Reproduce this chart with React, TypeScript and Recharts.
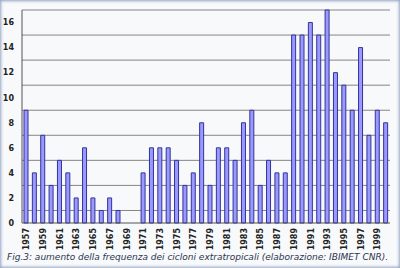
import { BarChart, Bar, XAxis, YAxis, CartesianGrid } from 'recharts'

const years = [
  '1957', '1958', '1959', '1960', '1961', '1962', '1963', '1964', '1965', '1966', '1967',
  '1968', '1969', '1970', '1971', '1972', '1973', '1974', '1975', '1976', '1977', '1978',
  '1979', '1980', '1981', '1982', '1983', '1984', '1985', '1986', '1987', '1988', '1989',
  '1990', '1991', '1992', '1993', '1994', '1995', '1996', '1997', '1998', '1999', '2000',
]
const cyclones = [
  9, 4, 7, 3, 5, 4, 2, 6, 2, 1, 2,
  1, 0, 0, 4, 6, 6, 6, 5, 3, 4, 8,
  3, 6, 6, 5, 8, 9, 3, 5, 4, 4, 15,
  15, 16, 15, 17, 12, 11, 9, 14, 7, 9, 8,
]
const yTicks = [0, 2, 4, 6, 8, 10, 12, 14, 16]
const gridValues = [0, 1, 2, 3, 4, 5, 6, 7, 8, 9, 10, 11, 12, 13, 14, 15, 16, 17]
const caption = 'Fig.3: aumento della frequenza dei cicloni extratropicali (elaborazione: IBIMET CNR).'

const data = years.map((y, i) => ({ year: y, value: cyclones[i] }))

const font = '"DejaVu Sans", Verdana, sans-serif'

function YearTick({ x, y, payload }: any) {
  return (
    <g transform={`translate(${x},${y})`}>
      <text transform="rotate(-90)" x={-5} y={3} textAnchor="end" fontSize={8} fontWeight="bold" fill="#222" fontFamily={font}>
        {payload.value}
      </text>
    </g>
  )
}

export default function App() {
  return (
    <div
      style={{
        position: 'fixed', top: 0, left: 0, width: 400, height: 268, overflow: 'hidden',
        background: '#f8f9fb', boxShadow: 'inset 0 0 3px 1px #8ea2c2',
      }}
    >
      <BarChart width={400} height={268} data={data} margin={{ top: 10, right: 10, left: 0, bottom: 0 }} barSize={4}>
        <CartesianGrid vertical={false} stroke="#858585" horizontalValues={gridValues} />
        <XAxis
          dataKey="year"
          interval={1}
          height={45}
          tick={<YearTick />}
          tickLine={false}
          tickSize={0}
          tickMargin={0}
          axisLine={{ stroke: '#555' }}
        />
        <YAxis
          domain={[0, 17]}
          ticks={yTicks}
          width={22}
          tickLine={false}
          axisLine={{ stroke: '#555' }}
          tick={{ fontSize: 8, fontWeight: 'bold', fill: '#222', fontFamily: font }}
          tickMargin={2}
        />
        <Bar dataKey="value" fill="#9999ff" stroke="#333399" strokeWidth={1} isAnimationActive={false} />
      </BarChart>
      <div
        style={{
          position: 'absolute', left: 7, top: 252, fontFamily: font, fontStyle: 'italic',
          fontSize: 9, color: '#2b3550', whiteSpace: 'nowrap',
        }}
      >
        {caption}
      </div>
    </div>
  )
}
